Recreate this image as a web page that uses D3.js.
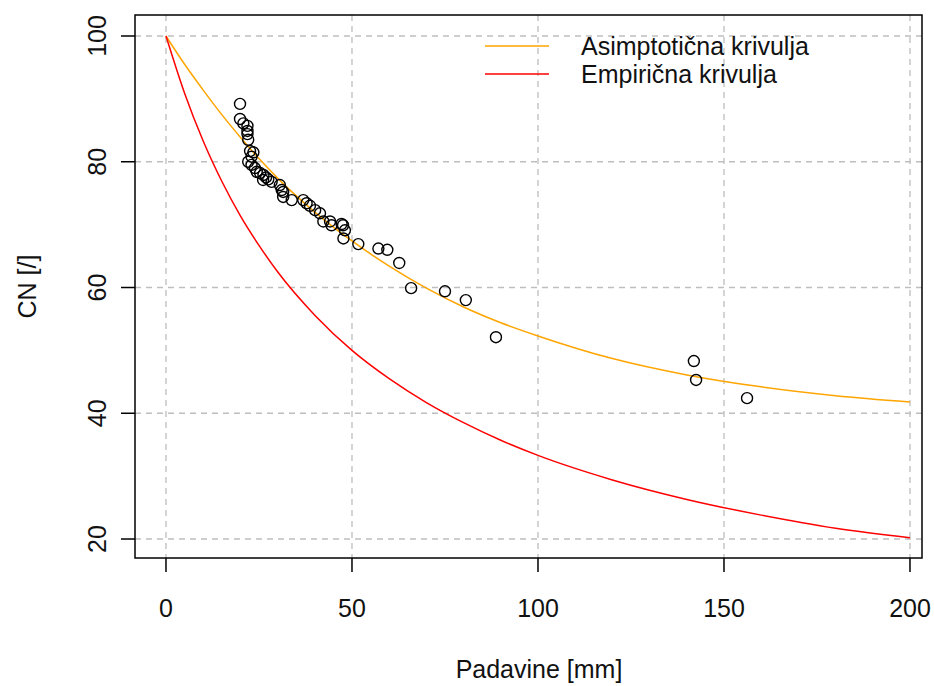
<!DOCTYPE html>
<html>
<head>
<meta charset="utf-8">
<script src="https://cdn.jsdelivr.net/npm/d3@7"></script>
<style>
  html, body { margin: 0; padding: 0; background: #fff; }
  svg { display: block; }
  text { font-family: "Liberation Sans", Arial, sans-serif; fill: #111; }
</style>
</head>
<body>
<svg id="chart" width="934" height="686"></svg>
<script>
// ---- data ----
const obsP  = [19.9, 19.9, 20.8, 21.9, 21.9, 21.9, 22.1, 22.6, 23.5, 23.0,
               22.1, 23.0, 23.9, 24.4, 25.3, 26.2, 26.9, 27.5, 28.4, 26.1,
               30.6, 31.5, 31.1, 31.5, 33.8, 36.9, 37.8, 38.7, 40.1, 41.4,
               42.3, 44.1, 44.5, 47.6, 47.2, 48.1, 47.7, 51.7, 57.1, 59.5,
               62.7, 65.9, 75.0, 80.6, 88.7, 141.9, 142.5, 156.2];
const obsCN = [89.2, 86.8, 86.1, 85.7, 84.9, 84.4, 83.5, 81.7, 81.5, 80.8,
               80.0, 79.5, 79.0, 78.4, 78.2, 77.9, 77.5, 77.2, 76.8, 77.1,
               76.3, 75.2, 75.5, 74.4, 73.9, 73.9, 73.4, 73.0, 72.3, 71.8,
               70.5, 70.5, 69.9, 69.9, 70.1, 69.1, 67.8, 66.9, 66.2, 66.0,
               63.9, 59.9, 59.4, 58.0, 52.1, 48.3, 45.3, 42.4];

const curveP   = [0, 5, 10, 15, 20, 25, 30, 40, 50, 60, 70, 80, 90, 100, 120, 140, 160, 180, 200];
const asympCN  = [100, 95.5, 91.4, 87.5, 83.9, 80.5, 77.4, 72.0, 67.4, 63.4, 59.9, 56.9, 54.4, 52.3, 48.7, 46.1, 44.2, 42.8, 41.8];
const empirCN  = [100, 90.9, 83.3, 76.9, 71.4, 66.7, 62.5, 55.6, 50.0, 45.5, 41.7, 38.5, 35.7, 33.3, 29.4, 26.3, 23.8, 21.7, 20.2];

const xTicks = [0, 50, 100, 150, 200];
const yTicks = [20, 40, 60, 80, 100];
const legendLabels = ["Asimptotična krivulja", "Empirična krivulja"];
const legendColors = ["#FFA500", "#FF0000"];
const xTitle = "Padavine [mm]";
const yTitle = "CN [/]";

// ---- layout ----
const W = 934, H = 686;
const L = 135, R = 922, T = 15, B = 558;
const FS = 25;

const svg = d3.select("#chart");
const x = d3.scaleLinear().domain([-8.33, 203.23]).range([L, R]);
const y = d3.scaleLinear().domain([16.98, 103.34]).range([B, T]);

// grid
const g = svg.append("g");
g.selectAll("line.vg").data(xTicks).enter().append("line")
  .attr("x1", d => x(d)).attr("x2", d => x(d))
  .attr("y1", T).attr("y2", B)
  .attr("stroke", "#bebebe").attr("stroke-width", 1.3).attr("stroke-dasharray", "6,5");
g.selectAll("line.hg").data(yTicks).enter().append("line")
  .attr("x1", L).attr("x2", R)
  .attr("y1", d => y(d)).attr("y2", d => y(d))
  .attr("stroke", "#bebebe").attr("stroke-width", 1.3).attr("stroke-dasharray", "6,5");

// curves
const line = (ys) => d3.line()
  .x((d, i) => x(curveP[i])).y(d => y(d))
  .curve(d3.curveMonotoneX)(ys);
svg.append("path").attr("d", line(asympCN)).attr("fill", "none")
  .attr("stroke", legendColors[0]).attr("stroke-width", 1.5);
svg.append("path").attr("d", line(empirCN)).attr("fill", "none")
  .attr("stroke", legendColors[1]).attr("stroke-width", 1.5);

// points
svg.append("g").selectAll("circle").data(obsP).enter().append("circle")
  .attr("cx", d => x(d)).attr("cy", (d, i) => y(obsCN[i]))
  .attr("r", 5.5).attr("fill", "none").attr("stroke", "#000").attr("stroke-width", 1.4);

// box
svg.append("rect").attr("x", L).attr("y", T).attr("width", R - L).attr("height", B - T)
  .attr("fill", "none").attr("stroke", "#000").attr("stroke-width", 1.5);

// x axis
const xAxis = svg.append("g");
xAxis.selectAll("line").data(xTicks).enter().append("line")
  .attr("x1", d => x(d)).attr("x2", d => x(d)).attr("y1", B).attr("y2", B + 14)
  .attr("stroke", "#000").attr("stroke-width", 1.5);
xAxis.selectAll("text").data(xTicks).enter().append("text")
  .attr("x", d => x(d)).attr("y", 617).attr("text-anchor", "middle")
  .attr("font-size", FS).text(d => d);
svg.append("text").attr("x", 539).attr("y", 678).attr("text-anchor", "middle")
  .attr("font-size", FS).text(xTitle);

// y axis
const yAxis = svg.append("g");
yAxis.selectAll("line").data(yTicks).enter().append("line")
  .attr("x1", L - 14).attr("x2", L).attr("y1", d => y(d)).attr("y2", d => y(d))
  .attr("stroke", "#000").attr("stroke-width", 1.5);
yAxis.selectAll("text").data(yTicks).enter().append("text")
  .attr("transform", d => `translate(106,${y(d)}) rotate(-90)`)
  .attr("text-anchor", "middle").attr("font-size", FS).text(d => d);
svg.append("text").attr("transform", `translate(36,${(T + B) / 2}) rotate(-90)`)
  .attr("text-anchor", "middle").attr("font-size", FS).text(yTitle);

// legend
const leg = svg.append("g");
legendLabels.forEach((lab, i) => {
  const ly = 46 + i * 28;
  leg.append("line").attr("x1", 485).attr("x2", 549).attr("y1", ly).attr("y2", ly)
    .attr("stroke", legendColors[i]).attr("stroke-width", 1.5);
  leg.append("text").attr("x", 581).attr("y", ly + 9).attr("font-size", FS).text(lab);
});
</script>
</body>
</html>
